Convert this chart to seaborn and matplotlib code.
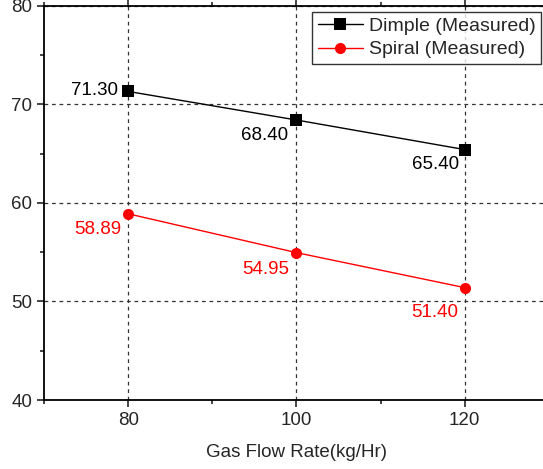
import matplotlib
matplotlib.use("Agg")
import matplotlib.pyplot as plt
import seaborn as sns
import pandas as pd
from matplotlib.ticker import MultipleLocator

# data
flow = [80, 100, 120]
dimple = [71.30, 68.40, 65.40]
spiral = [58.89, 54.95, 51.40]
dimple_labels = ["71.30", "68.40", "65.40"]
spiral_labels = ["58.89", "54.95", "51.40"]

sns.set_style("ticks")
plt.rcParams['font.family'] = ['Liberation Sans', 'DejaVu Sans']
plt.rcParams['font.size'] = 13.5

df = pd.DataFrame({
    "flow": flow * 2,
    "value": dimple + spiral,
    "series": ["Dimple (Measured)"] * 3 + ["Spiral (Measured)"] * 3,
})

fig = plt.figure(figsize=(5.43, 4.69), dpi=100)
ax = fig.add_axes([0.081, 0.147, 0.93, 0.841])

sns.lineplot(data=df, x="flow", y="value", hue="series", style="series",
             palette={"Dimple (Measured)": "black", "Spiral (Measured)": "red"},
             markers={"Dimple (Measured)": "s", "Spiral (Measured)": "o"},
             dashes=False, linewidth=1, markersize=8, markeredgewidth=0,
             ax=ax, zorder=3)

ax.set_xlim(70, 130)
ax.set_ylim(40, 80)
ax.xaxis.set_major_locator(MultipleLocator(20))
ax.xaxis.set_minor_locator(MultipleLocator(10))
ax.yaxis.set_major_locator(MultipleLocator(10))
ax.yaxis.set_minor_locator(MultipleLocator(5))
ax.grid(True, which="major", linestyle=(0, (3, 3)), color="#333333", linewidth=0.9)
ax.tick_params(which="major", direction="out", length=5, width=1.2, labelsize=13.5)
ax.tick_params(which="minor", direction="out", length=3, width=1.2)
ax.tick_params(which="both", top=True, labeltop=False)
for s in ["left", "bottom", "top"]:
    ax.spines[s].set_linewidth(1.3)
    ax.spines[s].set_color("black")
ax.spines["right"].set_visible(False)

ax.set_xlabel("Gas Flow Rate(kg/Hr)", fontsize=13.5, labelpad=11)
ax.set_ylabel("")

offsets_d = [(-24, 1), (-23, -11), (-21, -11)]
offsets_s = [(-22, -11), (-22, -12), (-22, -18)]
for x, y, t, o in zip(flow, dimple, dimple_labels, offsets_d):
    ax.annotate(t, (x, y), xytext=o, textcoords="offset points",
                ha="center", va="center", fontsize=13.5, color="black")
for x, y, t, o in zip(flow, spiral, spiral_labels, offsets_s):
    ax.annotate(t, (x, y), xytext=o, textcoords="offset points",
                ha="center", va="center", fontsize=13.5, color="red")

leg = ax.legend(loc="upper left", bbox_to_anchor=(0.531, 0.985), frameon=True,
                fancybox=False, edgecolor="black", fontsize=14,
                handlelength=2.3, borderpad=0.3, labelspacing=0.3,
                handletextpad=0.3, borderaxespad=0)
leg.get_frame().set_linewidth(1.0)

fig.savefig("out.png", dpi=100)
